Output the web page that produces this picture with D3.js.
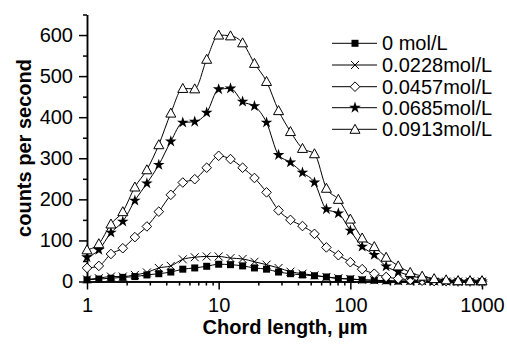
<!DOCTYPE html>
<html><head><meta charset="utf-8">
<script src="https://cdn.jsdelivr.net/npm/d3@7"></script>
<style>body{margin:0;background:#fff}svg{display:block}text{font-family:"Liberation Sans",Arial,sans-serif}</style>
</head><body>
<svg id="c" width="507" height="350"></svg>
<script>
const chordLength = [1, 1.23, 1.52, 1.87, 2.31, 2.85, 3.51, 4.33, 5.34, 6.58, 8.11, 10, 12.3, 15.2, 18.7, 23.1, 28.5, 35.1, 43.3, 53.4, 65.8, 81.1, 100, 123, 152, 187, 231, 285, 351, 433, 534, 658, 811, 1000];
const seriesNames = ["0 mol/L", "0.0228mol/L", "0.0457mol/L", "0.0685mol/L", "0.0913mol/L"];
const s0000 = [4,6,8,10,12,16,19,23,30,33,37,42,41,38,33,30,23,19,16,14,11,7,6,4,3,2,1,1,1,0,0,0,0,0];
const s0228 = [5,8,12,12,16,22,33,38,54,59,61,61,57,55,48,41,33,24,19,15,11,8,6,4,3,2,1,1,1,0,0,0,0,0];
const s0457 = [33,38,67,81,108,134,170,211,241,249,277,306,298,277,252,217,173,150,135,116,83,64,47,30,19,11,7,4,2,1,1,0,0,0];
const s0685 = [59,77,119,146,197,239,284,341,387,389,411,468,470,438,427,387,308,290,265,241,176,166,124,85,65,37,24,14,8,4,2,1,1,0];
const s0913 = [77,92,140,170,230,272,333,410,470,469,541,600,598,581,531,487,416,365,324,311,227,200,152,106,85,59,38,22,13,7,4,2,2,2];
const xTicks = [1, 10, 100, 1000];
const yTicks = [0, 100, 200, 300, 400, 500, 600];
const markerTypes = ["square", "cross", "diamond", "star", "triangle"];
const allSeries = [s0000, s0228, s0457, s0685, s0913];

const svg = d3.select("#c");
const x = d3.scaleLog().domain([1, 1000]).range([87, 482]);
const y = d3.scaleLinear().domain([0, 650]).range([281.5, 14.5]);
const font = '"Liberation Sans",Arial,sans-serif';

function marker(g, type) {
  if (type === "square") g.append("rect").attr("x", -3.5).attr("y", -3.5).attr("width", 7).attr("height", 7).attr("fill", "#000");
  else if (type === "cross") g.append("path").attr("d", "M-4,-4L4,4M-4,4L4,-4").attr("stroke", "#000").attr("stroke-width", 1).attr("fill", "none");
  else if (type === "diamond") g.append("path").attr("d", "M0,-4.8L4.8,0L0,4.8L-4.8,0Z").attr("fill", "#fff").attr("stroke", "#000").attr("stroke-width", 1);
  else if (type === "star") g.append("path").attr("d", d3.symbol(d3.symbolStar, 42)()).attr("fill", "#000");
  else if (type === "triangle") g.append("path").attr("d", "M0,-5L5,4L-5,4Z").attr("fill", "#fff").attr("stroke", "#000").attr("stroke-width", 1);
}

// axes
const xAxis = svg.append("g").attr("transform", "translate(0,281.5)")
  .call(d3.axisBottom(x).tickValues(xTicks).tickFormat(d3.format("d")).tickSize(8).tickPadding(8).tickSizeOuter(0));
const minorX = [];
[1, 10, 100].forEach(d => { for (let k = 2; k <= 9; k++) minorX.push(d * k); });
svg.append("g").attr("transform", "translate(0,281.5)")
  .call(d3.axisBottom(x).tickValues(minorX).tickFormat("").tickSize(4).tickSizeOuter(0));
const yAxis = svg.append("g").attr("transform", "translate(87,0)")
  .call(d3.axisLeft(y).tickValues(yTicks).tickSize(8).tickPadding(6).tickSizeOuter(0));
svg.append("g").attr("transform", "translate(87,0)")
  .call(d3.axisLeft(y).tickValues([50,150,250,350,450,550,650]).tickFormat("").tickSize(4).tickSizeOuter(0));
svg.selectAll(".domain, .tick line").attr("stroke", "#000").attr("stroke-width", 1.5);
svg.selectAll(".tick text").attr("font-size", 20).attr("font-family", font).attr("fill", "#000");

svg.append("text").attr("x", 285).attr("y", 334).attr("text-anchor", "middle")
  .attr("font-size", 20).attr("font-weight", "bold").text("Chord length, µm");
svg.append("text").attr("transform", "translate(31,148) rotate(-90)").attr("text-anchor", "middle")
  .attr("font-size", 20).attr("font-weight", "bold").text("counts per second");

// series
const line = d3.line().x(d => x(d[0])).y(d => y(d[1])).curve(d3.curveMonotoneX);
allSeries.forEach((vals, si) => {
  const pts = vals.map((v, i) => [chordLength[i], v]);
  svg.append("path").attr("d", line(pts)).attr("fill", "none").attr("stroke", "#000").attr("stroke-width", 1);
  pts.forEach(p => {
    const g = svg.append("g").attr("transform", `translate(${x(p[0])},${y(p[1])})`);
    marker(g, markerTypes[si]);
  });
});

// legend
const legY = [43.3, 65, 86.7, 107.7, 129.3];
seriesNames.forEach((name, i) => {
  const g = svg.append("g").attr("transform", `translate(0,${legY[i]})`);
  g.append("line").attr("x1", 332).attr("x2", 377).attr("y1", 0).attr("y2", 0).attr("stroke", "#000").attr("stroke-width", 1);
  const m = g.append("g").attr("transform", "translate(355,0)");
  marker(m, markerTypes[i]);
  g.append("text").attr("x", 382).attr("y", 7).attr("font-size", 20).text(name);
});
</script>
</body></html>
